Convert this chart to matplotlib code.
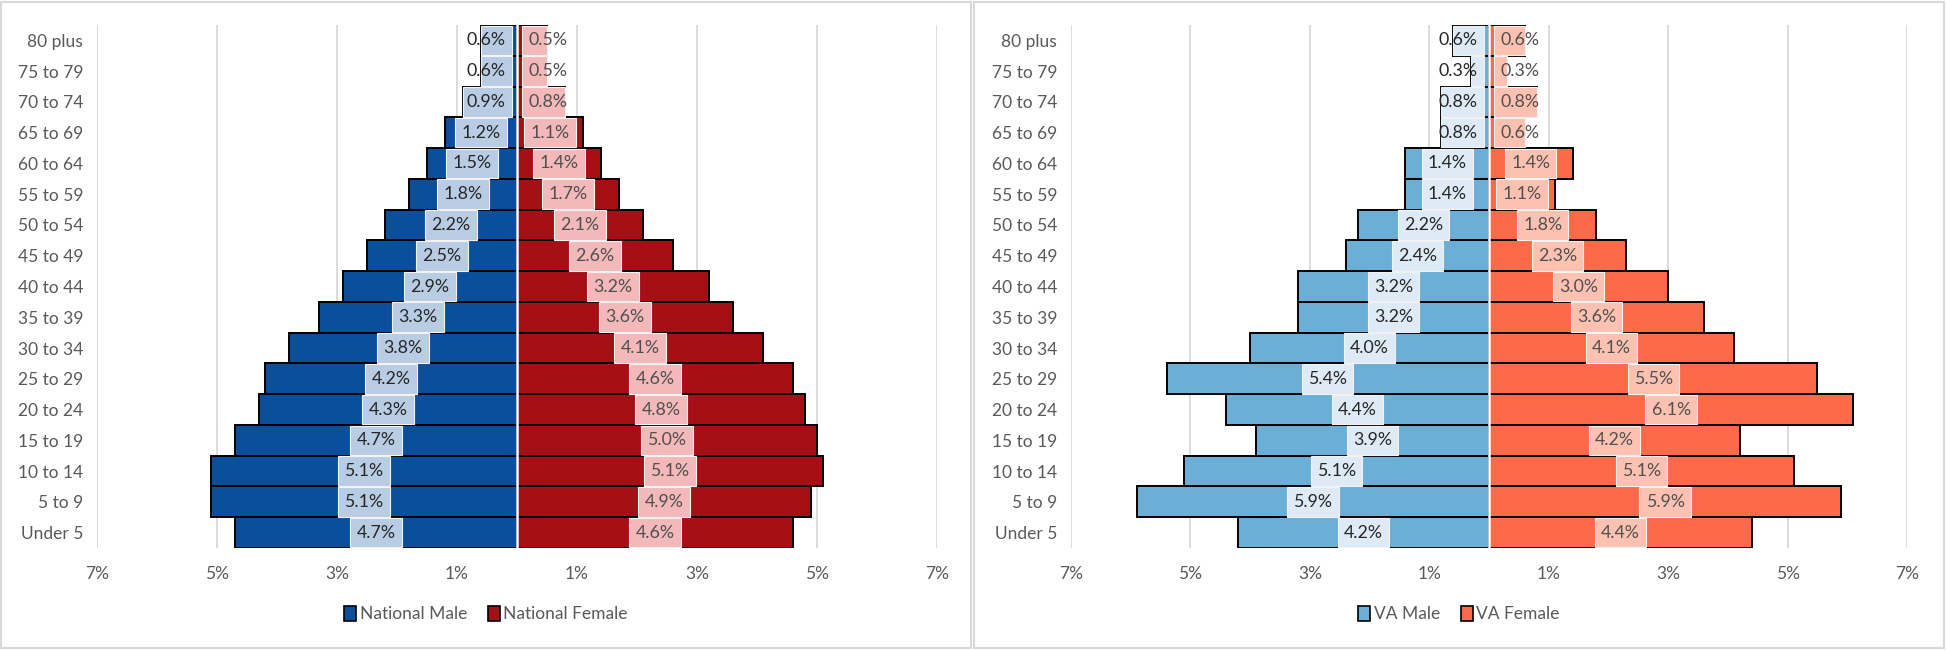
import matplotlib
matplotlib.use("Agg")
import matplotlib.pyplot as plt
from matplotlib.patches import Rectangle, Patch

plt.rcParams['font.family'] = ['Lato', 'DejaVu Sans']

"Data (percent of population)"
age_groups = ["Under 5", "5 to 9", "10 to 14", "15 to 19", "20 to 24", "25 to 29", "30 to 34",
              "35 to 39", "40 to 44", "45 to 49", "50 to 54", "55 to 59", "60 to 64",
              "65 to 69", "70 to 74", "75 to 79", "80 plus"]

national_male = [4.7, 5.1, 5.1, 4.7, 4.3, 4.2, 3.8, 3.3, 2.9, 2.5, 2.2, 1.8, 1.5, 1.2, 0.9, 0.6, 0.6]
national_female = [4.6, 4.9, 5.1, 5.0, 4.8, 4.6, 4.1, 3.6, 3.2, 2.6, 2.1, 1.7, 1.4, 1.1, 0.8, 0.5, 0.5]

va_male = [4.2, 5.9, 5.1, 3.9, 4.4, 5.4, 4.0, 3.2, 3.2, 2.4, 2.2, 1.4, 1.4, 0.8, 0.8, 0.3, 0.6]
va_female = [4.4, 5.9, 5.1, 4.2, 6.1, 5.5, 4.1, 3.6, 3.0, 2.3, 1.8, 1.1, 1.4, 0.6, 0.8, 0.3, 0.6]

x_ticks = [-7, -5, -3, -1, 1, 3, 5, 7]

W, H = 1946, 651
fig = plt.figure(figsize=(W / 100, H / 100), dpi=100)

# panel frames
fig.patches.append(Rectangle((1 / W, 3 / H), 970 / W, 646 / H, fill=False,
                             edgecolor='#d9d9d9', lw=1.5, transform=fig.transFigure))
fig.patches.append(Rectangle((974 / W, 3 / H), 970 / W, 646 / H, fill=False,
                             edgecolor='#d9d9d9', lw=1.5, transform=fig.transFigure))


def draw_pyramid(ax, male, female, c_male, c_female, box_male, box_female):
    ypos = list(range(len(age_groups)))
    ax.barh(ypos, [-v for v in male], height=1.0, color=c_male, edgecolor='black', lw=1.4, zorder=2)
    ax.barh(ypos, female, height=1.0, color=c_female, edgecolor='black', lw=1.4, zorder=2)
    ax.axvline(0, color='white', lw=1.8, zorder=3)

    # label boxes sit in the bar, cut off where the bar ends
    half = 0.43
    for y, v in zip(ypos, male):
        c = max(v / 2, 0.52)
        lo, hi = max(c - half, 0.0), min(c + half, v)
        ax.barh(y, -(hi - lo), left=-lo, height=0.96, color=box_male, edgecolor='#f2f2f2', lw=0.8, zorder=4)
        ax.text(-c, y, f"{v:.1f}%", ha='center', va='center', fontsize=12.8, color='#262626', zorder=5)
    for y, v in zip(ypos, female):
        c = max(v / 2, 0.52)
        lo, hi = max(c - half, 0.0), min(c + half, v)
        ax.barh(y, hi - lo, left=lo, height=0.96, color=box_female, edgecolor='#f2f2f2', lw=0.8, zorder=4)
        ax.text(c, y, f"{v:.1f}%", ha='center', va='center', fontsize=12.8, color='#505050', zorder=5)

    ax.set_xlim(-7, 7)
    ax.set_ylim(-0.5, len(age_groups) - 0.5)
    ax.set_xticks(x_ticks)
    ax.set_xticklabels([f"{abs(t)}%" for t in x_ticks])
    ax.set_yticks(ypos)
    ax.set_yticklabels(age_groups)
    ax.tick_params(length=0, labelsize=12.5, colors='#595959')
    ax.tick_params(axis='x', pad=13)
    ax.tick_params(axis='y', pad=10)
    for s in ax.spines.values():
        s.set_visible(False)
    ax.grid(axis='x', color='#d9d9d9', lw=1.3, zorder=0)
    ax.set_axisbelow(True)

    handles = [Patch(facecolor=c_male, edgecolor='black', lw=1.2),
               Patch(facecolor=c_female, edgecolor='black', lw=1.2)]
    return handles


ax1 = fig.add_axes([97 / W, (H - 548) / H, 840 / W, 523 / H])
h1 = draw_pyramid(ax1, national_male, national_female, '#0b4f9c', '#a50f15', '#b8cce4', '#f2b8ba')
fig.legend(h1, ["National Male", "National Female"], loc='center', bbox_to_anchor=(486 / W, 1 - 614 / H),
           ncol=2, frameon=False, fontsize=12.5, handlelength=0.7, handleheight=1.0,
           handletextpad=0.2, columnspacing=1.2, labelcolor='#595959')

ax2 = fig.add_axes([1071 / W, (H - 548) / H, 836 / W, 523 / H])
h2 = draw_pyramid(ax2, va_male, va_female, '#6baed6', '#fd6a4a', '#deebf7', '#fcc1b1')
fig.legend(h2, ["VA Male", "VA Female"], loc='center', bbox_to_anchor=(1459 / W, 1 - 614 / H),
           ncol=2, frameon=False, fontsize=12.5, handlelength=0.7, handleheight=1.0,
           handletextpad=0.2, columnspacing=1.2, labelcolor='#595959')

fig.savefig("out.png", dpi=100)
